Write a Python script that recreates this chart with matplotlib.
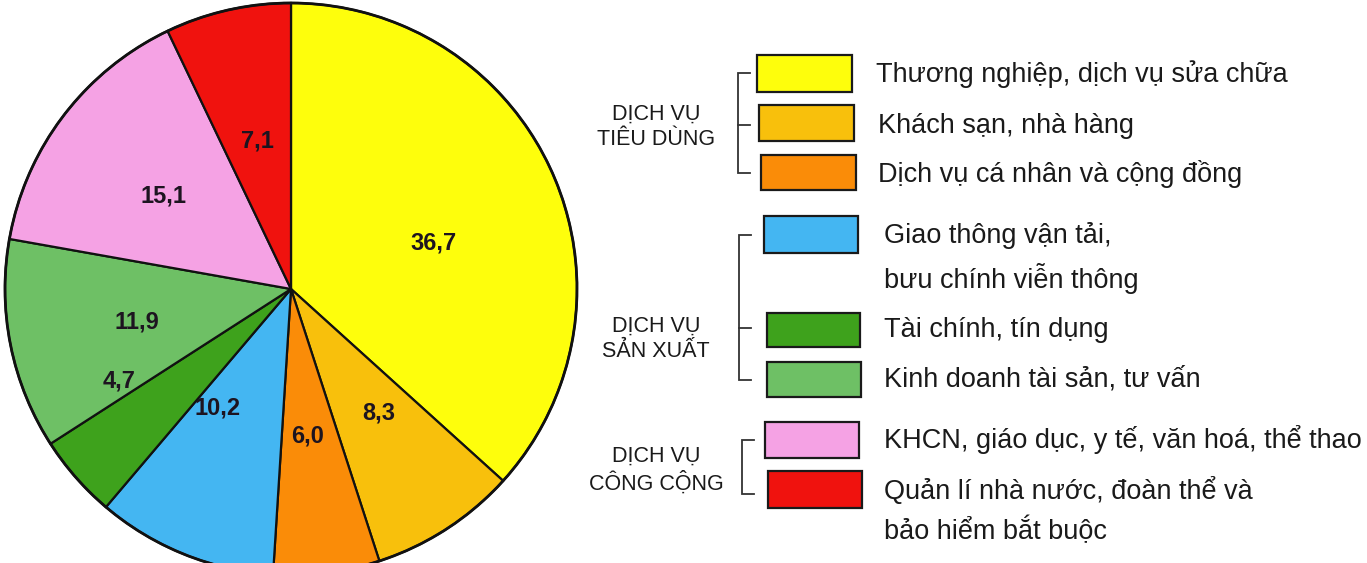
import matplotlib
matplotlib.use("Agg")
import matplotlib.pyplot as plt
from matplotlib.patches import Rectangle

# ---------------- data ----------------
values = [36.7, 8.3, 6.0, 10.2, 4.7, 11.9, 15.1, 7.1]
value_labels = ["36,7", "8,3", "6,0", "10,2", "4,7", "11,9", "15,1", "7,1"]
categories = [
    "Thương nghiệp, dịch vụ sửa chữa",
    "Khách sạn, nhà hàng",
    "Dịch vụ cá nhân và cộng đồng",
    "Giao thông vận tải,\nbưu chính viễn thông",
    "Tài chính, tín dụng",
    "Kinh doanh tài sản, tư vấn",
    "KHCN, giáo dục, y tế, văn hoá, thể thao",
    "Quản lí nhà nước, đoàn thể và\nbảo hiểm bắt buộc",
]
groups = ["DỊCH VỤ\nTIÊU DÙNG", "DỊCH VỤ\nSẢN XUẤT", "DỊCH VỤ\nCÔNG CỘNG"]

# ---------------- styles ----------------
colors = ["#FEFE0C", "#F8C00C", "#FA8C08", "#44B6F2", "#3EA21C",
          "#6EC065", "#F5A2E4", "#F0120E"]

W, H = 1367, 563
fig = plt.figure(figsize=(W / 100, H / 100), dpi=100)
ax = fig.add_axes([0, 0, 1, 1])

def Y(py):
    return H - py

font = ["Liberation Sans", "DejaVu Sans"]

cx, cy, R = 291, 289, 286
wedges, _ = ax.pie(values, colors=colors, startangle=90, counterclock=False,
                   center=(cx, Y(cy)), radius=R, frame=True,
                   wedgeprops=dict(edgecolor="#111111", linewidth=1.6))
ax.set_xlim(0, W)
ax.set_ylim(0, H)
ax.set_aspect("equal")
ax.axis("off")
circ = plt.Circle((cx, Y(cy)), R, fill=False, edgecolor="#111111", linewidth=2.0)
ax.add_patch(circ)

label_pos = [(433, 243), (379, 413), (308, 436), (218, 408), (119, 381),
             (137, 322), (163, 196), (257, 141)]
for (px, py), t in zip(label_pos, value_labels):
    ax.text(px, Y(py), t, ha="center", va="center", fontsize=17,
            fontweight="bold", color="#1d1420", family=font)

# legend boxes
boxes = [(757, 55, 95, 37), (759, 105, 95, 36), (761, 155, 95, 35),
         (764, 216, 94, 37), (767, 313, 93, 34), (767, 362, 94, 35),
         (765, 422, 94, 36), (768, 471, 94, 37)]
text_pos = [(876, 74), (878, 126), (878, 174), (884, 258), (884, 330),
            (884, 379), (884, 439), (884, 511)]
for (bx, by, bw, bh), c, (tx, ty), lab in zip(boxes, colors, text_pos, categories):
    ax.add_patch(Rectangle((bx, Y(by + bh)), bw, bh, facecolor=c,
                           edgecolor="#1a1a1a", linewidth=1.6))
    ax.text(tx, Y(ty), lab, ha="left", va="center", fontsize=19.5,
            color="#1a1a1a", family=font, linespacing=1.55)

# brackets
brackets = [(738, 73, 173, 125), (739, 235, 380, 328), (742, 440, 494, None)]
for x, y0, y1, ym in brackets:
    ax.plot([x + 12, x, x, x + 12], [Y(y0), Y(y0), Y(y1), Y(y1)],
            color="#333333", linewidth=1.3, solid_joinstyle="miter")
    if ym is not None:
        ax.plot([x, x + 12], [Y(ym), Y(ym)], color="#333333", linewidth=1.3)

group_pos = [(656, 127), (656, 339), (656, 470)]
for (gx, gy), g in zip(group_pos, groups):
    ax.text(gx, Y(gy), g, ha="center", va="center", fontsize=15.5,
            color="#1a1a1a", family=font, linespacing=1.25)

fig.savefig("out.png", dpi=100, facecolor="white")
